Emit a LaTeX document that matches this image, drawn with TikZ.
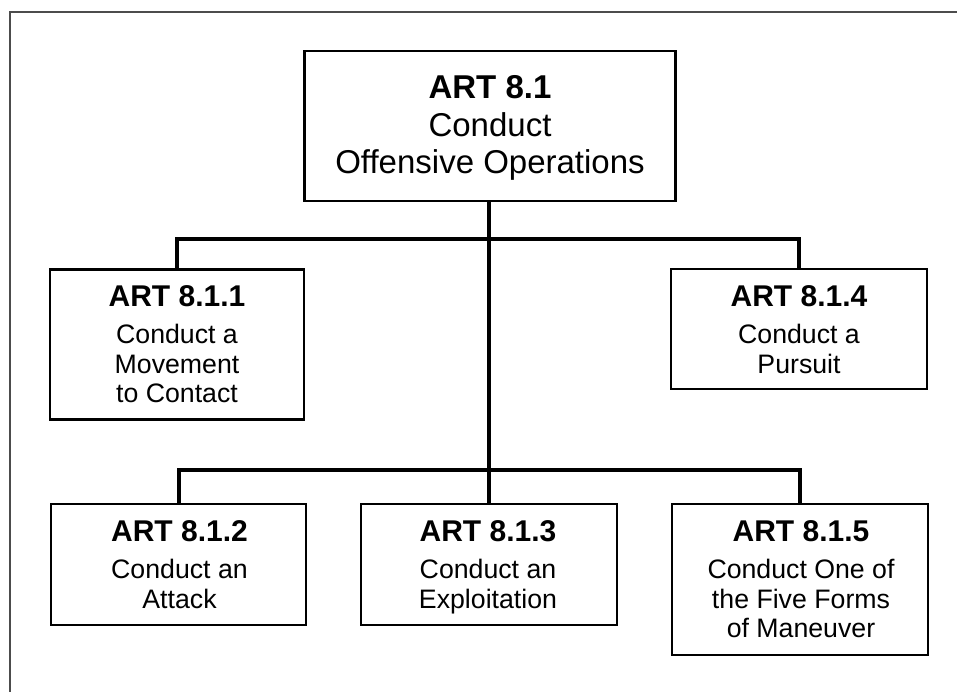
\documentclass[tikz,border=0pt]{standalone}
\usepackage{fontspec}
\setmainfont{Liberation Sans}
\begin{document}
\begin{tikzpicture}[x=1pt,y=-1pt,
  box/.style={draw=black,line width=2.2pt,minimum width=#1,inner sep=0pt},
  conn/.style={line width=4pt,line cap=butt},
  frame/.style={draw=black!70,line width=1.4pt},
  hd/.style={anchor=base,inner sep=0pt,font=\bfseries\fontsize{30}{30}\selectfont},
  tx/.style={anchor=base,inner sep=0pt,font=\fontsize{26.7}{26.7}\selectfont},
  thd/.style={anchor=base,inner sep=0pt,font=\bfseries\fontsize{33}{33}\selectfont},
  ttx/.style={anchor=base,inner sep=0pt,font=\fontsize{33}{33}\selectfont}]
\useasboundingbox (0,0) rectangle (957,692);
\draw[frame] (957,12) -- (10,12) -- (10,692);
% boxes
\node[box=371pt,minimum height=150pt] (top) at (490,126) {};
\node[box=254pt,minimum height=150pt] (b1) at (177,344.5) {};
\node[box=256pt,minimum height=120pt] (b4) at (799,329) {};
\node[box=255pt,minimum height=121pt] (b2) at (178.5,564.5) {};
\node[box=256pt,minimum height=121pt] (b3) at (489,564.5) {};
\node[box=256pt,minimum height=151pt] (b5) at (800,579.5) {};
% texts
\node[thd] (t0) at (490,98.3) {ART 8.1};
\node[ttx] (t1) at (490,136.7) {Conduct};
\node[ttx] (t2) at (490,174) {Offensive Operations};
\node[hd] (a0) at (177,306.3) {ART 8.1.1};
\node[tx] (a1) at (177,343.7) {Conduct a};
\node[tx] (a2) at (177,373.5) {Movement};
\node[tx] (a3) at (177,402.7) {to Contact};
\node[hd] (d0) at (799,306) {ART 8.1.4};
\node[tx] (d1) at (799,343.5) {Conduct a};
\node[tx] (d2) at (799,373) {Pursuit};
\node[hd] (e0) at (179.5,541.5) {ART 8.1.2};
\node[tx] (e1) at (179.5,578.5) {Conduct an};
\node[tx] (e2) at (179.5,608) {Attack};
\node[hd] (f0) at (488,541.5) {ART 8.1.3};
\node[tx] (f1) at (488,578.5) {Conduct an};
\node[tx] (f2) at (488,608) {Exploitation};
\node[hd] (g0) at (801,541.5) {ART 8.1.5};
\node[tx] (g1) at (801,578.5) {Conduct One of};
\node[tx] (g2) at (801,608) {the Five Forms};
\node[tx] (g3) at (801,637.5) {of Maneuver};
% connectors
\coordinate (j1) at (489,239);
\coordinate (j2) at (489,470);
\draw[conn] (top.south -| b3.north) -- (b3.north);
\draw[conn] (b1.north) -- (b1.north |- j1) -- (b4.north |- j1) -- (b4.north);
\draw[conn] (b2.north) -- (b2.north |- j2) -- (b5.north |- j2) -- (b5.north);
\end{tikzpicture}
\end{document}
